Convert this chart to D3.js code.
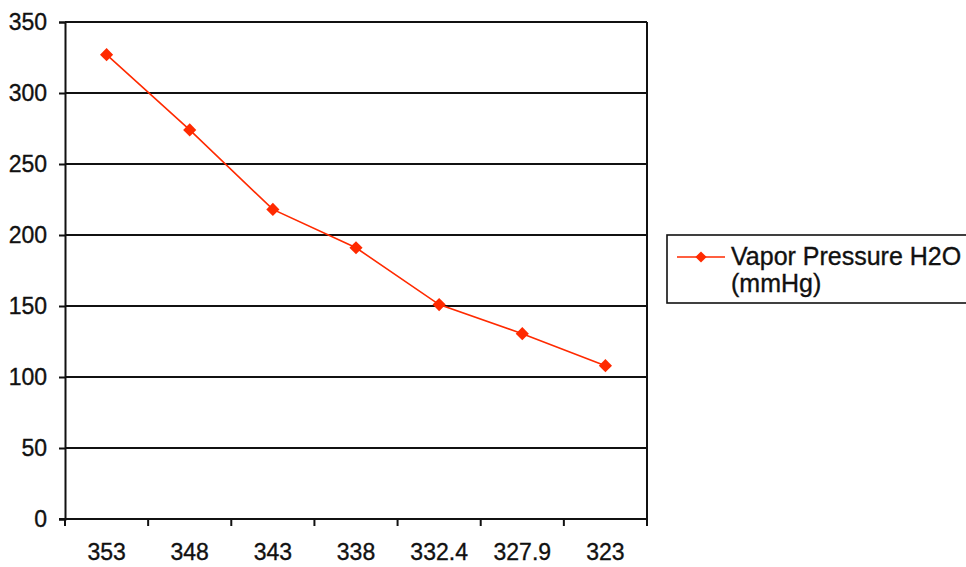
<!DOCTYPE html>
<html>
<head>
<meta charset="utf-8">
<script src="https://cdn.jsdelivr.net/npm/d3@7"></script>
<style>
  html, body { margin: 0; padding: 0; background: #fff; }
  svg { display: block; font-family: "Liberation Sans", Arial, sans-serif; }
  svg text { stroke: #111; stroke-width: 0.35px; }
</style>
</head>
<body>
<svg id="chart" width="966" height="567"></svg>
<script>
// Temperature (K) categories and water vapor pressure (mmHg)
const temperatures = ["353", "348", "343", "338", "332.4", "327.9", "323"];
const vaporPressure = [327, 274, 218, 191, 151, 130.5, 108];
const yTicks = [0, 50, 100, 150, 200, 250, 300, 350];
const seriesName = ["Vapor Pressure H2O", "(mmHg)"];

const svg = d3.select("#chart");
const plot = { left: 65, right: 647, top: 22, bottom: 519 };
const lineColor = "#ff2a00";

const x = d3.scaleBand().domain(temperatures).range([plot.left, plot.right]).padding(0);
const y = d3.scaleLinear().domain([0, 350]).range([plot.bottom, plot.top]);

// Horizontal gridlines
svg.append("g")
  .selectAll("line")
  .data(yTicks.filter(d => d > 0))
  .join("line")
  .attr("x1", plot.left).attr("x2", plot.right)
  .attr("y1", d => y(d)).attr("y2", d => y(d))
  .attr("stroke", "#111").attr("stroke-width", 2);

// Right border of the plot area
svg.append("line")
  .attr("x1", plot.right).attr("x2", plot.right)
  .attr("y1", plot.top).attr("y2", plot.bottom)
  .attr("stroke", "#111").attr("stroke-width", 2);

// Y axis
const yAxis = svg.append("g")
  .attr("transform", `translate(${plot.left},0)`)
  .call(d3.axisLeft(y).tickValues(yTicks).tickSize(6).tickPadding(12));
yAxis.select(".domain").attr("stroke", "#111").attr("stroke-width", 2);
yAxis.selectAll(".tick line").attr("stroke", "#111").attr("stroke-width", 2);
yAxis.selectAll(".tick text")
  .attr("font-size", 23).attr("fill", "#111").attr("font-family", "Liberation Sans, Arial, sans-serif");

// X axis: labels centred in each category, ticks between categories
const xAxis = svg.append("g")
  .attr("transform", `translate(0,${plot.bottom})`)
  .call(d3.axisBottom(x).tickSize(0).tickPadding(0));
xAxis.select(".domain").remove();
xAxis.selectAll(".tick text")
  .attr("y", 41).attr("dy", 0)
  .attr("font-size", 23).attr("fill", "#111").attr("font-family", "Liberation Sans, Arial, sans-serif");

svg.append("line")
  .attr("x1", plot.left - 6).attr("x2", plot.right)
  .attr("y1", plot.bottom).attr("y2", plot.bottom)
  .attr("stroke", "#111").attr("stroke-width", 2);

const boundaries = temperatures.map(t => x(t)).concat([x(temperatures[temperatures.length - 1]) + x.bandwidth()]);
svg.append("g")
  .selectAll("line")
  .data(boundaries)
  .join("line")
  .attr("x1", d => d).attr("x2", d => d)
  .attr("y1", plot.bottom).attr("y2", plot.bottom + 7)
  .attr("stroke", "#111").attr("stroke-width", 2);

// Series line and diamond markers
const cx = (d, i) => x(temperatures[i]) + x.bandwidth() / 2;
svg.append("path")
  .datum(vaporPressure)
  .attr("fill", "none")
  .attr("stroke", lineColor)
  .attr("stroke-width", 1.6)
  .attr("d", d3.line().x(cx).y(d => y(d)));

const diamond = d3.symbol().type(d3.symbolDiamond2).size(110);
svg.append("g")
  .selectAll("path")
  .data(vaporPressure)
  .join("path")
  .attr("transform", (d, i) => `translate(${cx(d, i)},${y(d)})`)
  .attr("d", diamond)
  .attr("fill", lineColor);

// Legend
const legend = svg.append("g");
legend.append("rect")
  .attr("x", 667).attr("y", 235).attr("width", 320).attr("height", 68)
  .attr("fill", "#fff").attr("stroke", "#111").attr("stroke-width", 1.6);
legend.append("line")
  .attr("x1", 677).attr("x2", 725).attr("y1", 257).attr("y2", 257)
  .attr("stroke", lineColor).attr("stroke-width", 1.6);
legend.append("path")
  .attr("transform", "translate(701,257)")
  .attr("d", d3.symbol().type(d3.symbolDiamond2).size(80))
  .attr("fill", lineColor);
legend.selectAll("text")
  .data(seriesName)
  .join("text")
  .attr("x", 731)
  .attr("y", (d, i) => 265 + i * 27)
  .attr("font-size", 25)
  .attr("fill", "#111")
  .text(d => d);
</script>
</body>
</html>
